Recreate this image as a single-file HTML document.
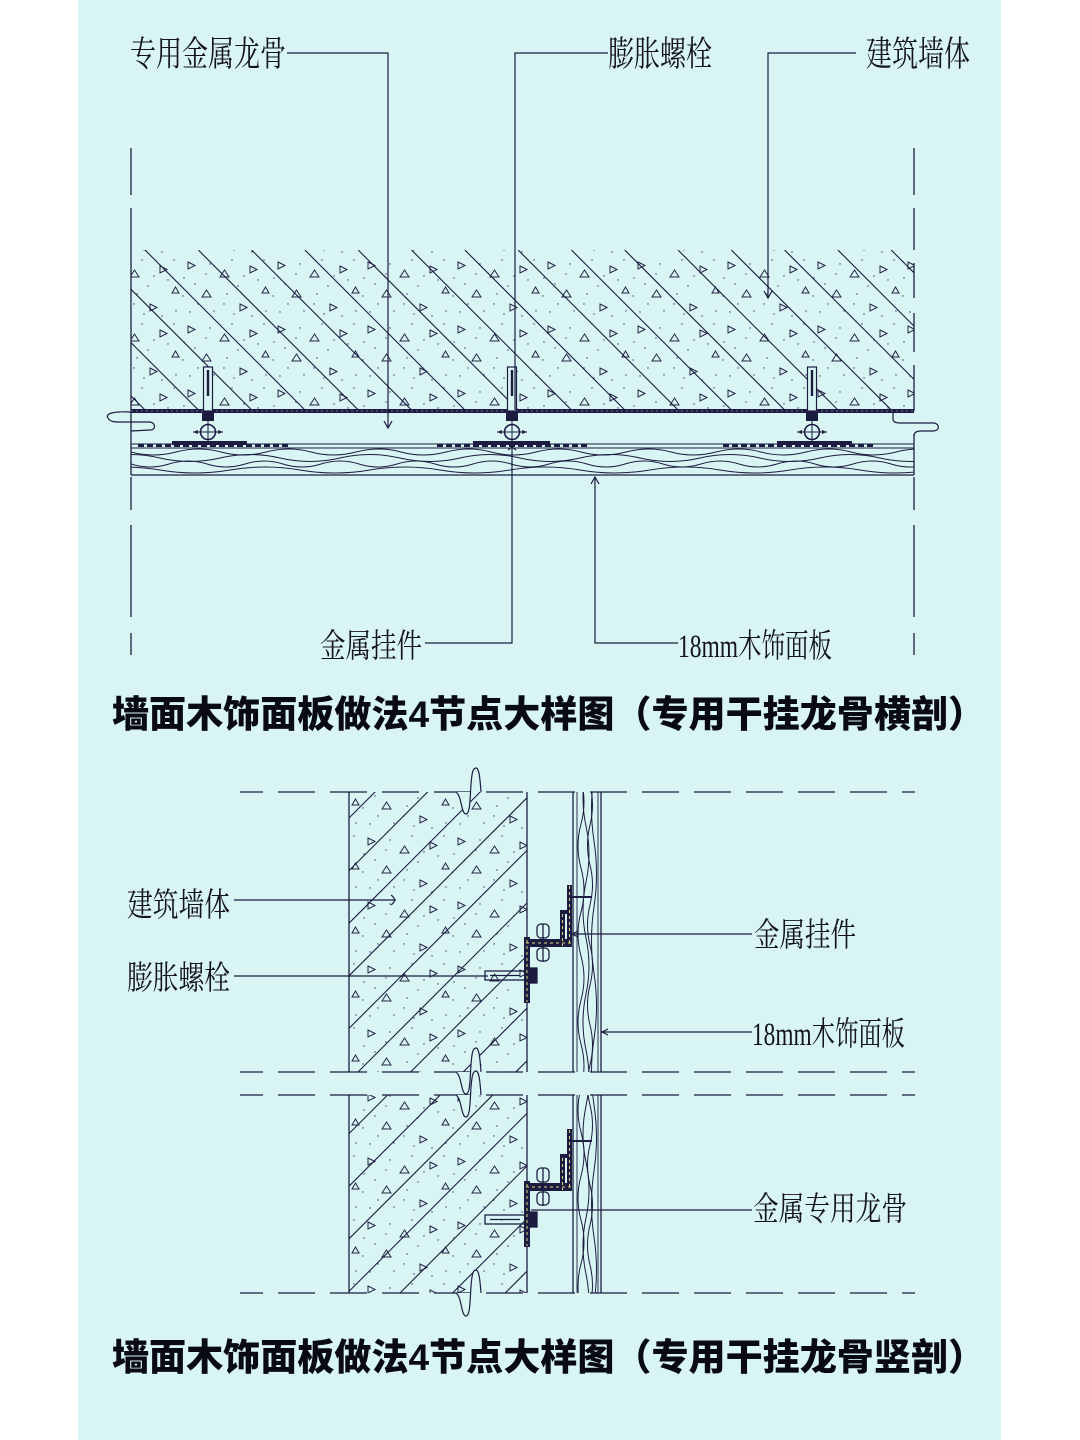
<!DOCTYPE html>
<html><head><meta charset="utf-8">
<style>
html,body{margin:0;padding:0;background:#fffffe;}
svg{display:block;}
.lbl{font-family:"Liberation Serif","Noto Serif CJK SC",serif;fill:#141420;}
.ttl{font-family:"Liberation Sans","Noto Sans CJK SC",sans-serif;font-weight:900;fill:#0a0a14;}
</style></head>
<body>
<svg width="1080" height="1440" viewBox="0 0 1080 1440" xmlns="http://www.w3.org/2000/svg">
<defs>
<pattern id="st" width="90" height="64" patternUnits="userSpaceOnUse">
<g fill="none" stroke="#222244" stroke-width="1">
<path d="M8,6 l7,3.5 l-7,3.5z"/>
<path d="M40,21 l4.5,-7 l4.5,7z"/>
<path d="M70,10 l7,3.5 l-7,3.5z"/>
<path d="M22,41 l4.5,-7 l4.5,7z"/>
<path d="M60,48 l7,3.5 l-7,3.5z"/>
<path d="M82,37 l3.5,-6 l3.5,6z"/>
</g>
<g fill="#3a3a5a">
<circle cx="4" cy="22" r=".7"/><circle cx="15" cy="28" r=".7"/><circle cx="30" cy="8" r=".7"/>
<circle cx="52" cy="4" r=".7"/><circle cx="58" cy="30" r=".7"/><circle cx="34" cy="55" r=".7"/>
<circle cx="10" cy="56" r=".7"/><circle cx="47" cy="38" r=".7"/><circle cx="78" cy="24" r=".7"/>
<circle cx="86" cy="55" r=".7"/><circle cx="72" cy="60" r=".7"/><circle cx="26" cy="18" r=".7"/>
<circle cx="64" cy="20" r=".7"/><circle cx="44" cy="48" r=".7"/><circle cx="18" cy="48" r=".7"/>
<circle cx="84" cy="4" r=".7"/><circle cx="3" cy="40" r=".7"/><circle cx="54" cy="58" r=".7"/>
</g>
</pattern>
<clipPath id="cwT"><rect x="131" y="250" width="783" height="161"/></clipPath>
<clipPath id="cwB"><rect x="349" y="792" width="178" height="280"/><rect x="349" y="1095" width="178" height="198"/></clipPath>
<clipPath id="cwood"><rect x="131" y="447" width="783" height="28"/></clipPath>
<clipPath id="cvw"><rect x="577" y="792" width="21" height="280"/><rect x="577" y="1095" width="21" height="198"/></clipPath>
<g id="bolt" stroke="#1c1c40" fill="none">
<rect x="-4.5" y="367" width="9" height="44" fill="#d9f5f3" stroke-width="1.2"/>
<line x1="0" y1="370" x2="0" y2="396" stroke-width="2.4"/>
<rect x="-6" y="413" width="12" height="8" fill="#1c1c40" stroke="none"/>
<line x1="0" y1="421" x2="0" y2="442" stroke-width="1"/>
<circle cx="0" cy="432" r="7.5" stroke-width="1.6"/>
<line x1="-15" y1="432" x2="15" y2="432" stroke-width="1"/>
<path d="M-15,432 l5,-2 v4z M15,432 l-5,-2 v4z" fill="#1c1c40" stroke="none"/>
</g>
<g id="hang">
<g fill="#1c1c40">
<rect x="524" y="937" width="6" height="66"/>
<rect x="524" y="939" width="48" height="8"/>
<rect x="560" y="910" width="5" height="37"/>
<rect x="567" y="885" width="5" height="62"/>
<rect x="560" y="910" width="12" height="4"/>
</g>
<g stroke="#d8d87a" stroke-width="1" stroke-dasharray="3 3" fill="none">
<line x1="527" y1="940" x2="527" y2="1002"/>
<line x1="526" y1="943" x2="571" y2="943"/>
<line x1="569.5" y1="886" x2="569.5" y2="946"/>
<line x1="562.5" y1="914" x2="562.5" y2="946"/>
</g>
<line x1="572" y1="897" x2="592" y2="897" stroke="#1c1c40" stroke-width="2"/>
<g fill="none" stroke="#1c1c40" stroke-width="1.3">
<rect x="537" y="924" width="12" height="14" rx="4"/>
<rect x="537" y="948" width="12" height="13" rx="4"/>
<line x1="543" y1="924" x2="543" y2="962"/>
<rect x="485" y="971" width="40" height="9"/>
<line x1="490" y1="975.5" x2="520" y2="975.5"/>
<rect x="530" y="968" width="7" height="15" fill="#1c1c40"/>
</g>
</g>
</defs>

<rect x="0" y="0" width="1080" height="1440" fill="#fffffe"/>
<rect x="78" y="0" width="923" height="1440" fill="#d9f5f3"/>

<!-- ============ TOP SECTION ============ -->
<rect x="131" y="250" width="783" height="161" fill="url(#st)"/>
<g clip-path="url(#cwT)" stroke="#1c1c40" stroke-width="1.1">
<line x1="-14.9" y1="250" x2="146.1" y2="411"/>
<line x1="38.4" y1="250" x2="199.4" y2="411"/>
<line x1="91.7" y1="250" x2="252.7" y2="411"/>
<line x1="145" y1="250" x2="306" y2="411"/>
<line x1="198.3" y1="250" x2="359.3" y2="411"/>
<line x1="251.6" y1="250" x2="412.6" y2="411"/>
<line x1="304.9" y1="250" x2="465.9" y2="411"/>
<line x1="358.2" y1="250" x2="519.2" y2="411"/>
<line x1="411.5" y1="250" x2="572.5" y2="411"/>
<line x1="464.8" y1="250" x2="625.8" y2="411"/>
<line x1="518.1" y1="250" x2="679.1" y2="411"/>
<line x1="571.4" y1="250" x2="732.4" y2="411"/>
<line x1="624.7" y1="250" x2="785.7" y2="411"/>
<line x1="678" y1="250" x2="839" y2="411"/>
<line x1="731.3" y1="250" x2="892.3" y2="411"/>
<line x1="784.6" y1="250" x2="945.6" y2="411"/>
<line x1="837.9" y1="250" x2="998.9" y2="411"/>
<line x1="891.2" y1="250" x2="1052.2" y2="411"/>
</g>

<!-- wall edges / dashed verticals -->
<g stroke="#1c1c40" stroke-width="1.3" fill="none">
<line x1="131" y1="148" x2="131" y2="195"/>
<line x1="131" y1="208" x2="131" y2="475"/>
<line x1="131" y1="477" x2="131" y2="510"/>
<line x1="131" y1="525" x2="131" y2="617"/>
<line x1="131" y1="633" x2="131" y2="655"/>
<line x1="914" y1="148" x2="914" y2="195"/>
<line x1="914" y1="208" x2="914" y2="250"/>
<line x1="914" y1="263" x2="914" y2="298"/>
<line x1="914" y1="313" x2="914" y2="352"/>
<line x1="914" y1="365" x2="914" y2="411"/>
<line x1="914" y1="434" x2="914" y2="475"/>
<line x1="914" y1="477" x2="914" y2="510"/>
<line x1="914" y1="525" x2="914" y2="617"/>
<line x1="914" y1="633" x2="914" y2="655"/>
</g>

<!-- thick line -->
<line x1="131" y1="411" x2="914" y2="411" stroke="#1c1c40" stroke-width="4"/>
<line x1="131" y1="411" x2="914" y2="411" stroke="#6a6a9a" stroke-width="1" stroke-dasharray="2 3"/>

<!-- break symbols -->
<g fill="none" stroke="#1c1c40" stroke-width="1.2">
<path d="M131,412 C112,411 105,414 108,418 C110,422 115,422 120,422 L150,422 C156,423 156,430 150,430 L131,431"/>
<path d="M893,413 L893,419 C893,422 896,423 900,423 L934,423 C940,424 940,431 933,431 L921,431 C916,431 914,433 914,436"/>
</g>

<!-- wood panel top -->
<g stroke="#1c1c40" fill="none">
<line x1="131" y1="444" x2="914" y2="444" stroke-width="1.1"/>
<line x1="131" y1="448" x2="914" y2="448" stroke-width="0.9"/>
<line x1="131" y1="475" x2="914" y2="475" stroke-width="1.3"/>
<g clip-path="url(#cwood)" stroke-width="1">
<path d="M131,452 q22,6 45,0 t45,0 t45,0 t45,0 t45,0 t45,0 t45,0 t45,0 t45,0 t45,0 t45,0 t45,0 t45,0 t45,0 t45,0 t45,0 t45,0 t45,0"/>
<path d="M100,458 q30,-7 60,0 t60,0 t60,0 t60,0 t60,0 t60,0 t60,0 t60,0 t60,0 t60,0 t60,0 t60,0 t60,0 t60,0"/>
<path d="M131,464 q19,6 38,0 t38,0 t38,0 t38,0 t38,0 t38,0 t38,0 t38,0 t38,0 t38,0 t38,0 t38,0 t38,0 t38,0 t38,0 t38,0 t38,0 t38,0 t38,0 t38,0 t38,0"/>
<path d="M90,470 q35,-6 70,0 t70,0 t70,0 t70,0 t70,0 t70,0 t70,0 t70,0 t70,0 t70,0 t70,0 t70,0"/>
</g>
</g>

<!-- hanger strips top -->
<g stroke="#1c1c40" stroke-width="3" stroke-dasharray="6 3">
<line x1="138" y1="445.5" x2="290" y2="445.5"/>
<line x1="437" y1="445.5" x2="590" y2="445.5"/>
<line x1="723" y1="445.5" x2="875" y2="445.5"/>
</g>
<g fill="#1c1c40">
<rect x="172" y="441" width="75" height="4"/>
<rect x="473" y="441" width="77" height="4"/>
<rect x="777" y="441" width="75" height="4"/>
</g>

<!-- bolts -->
<use href="#bolt" x="208"/>
<use href="#bolt" x="512"/>
<use href="#bolt" x="812"/>

<!-- leaders top -->
<g stroke="#1c1c40" stroke-width="1.2" fill="none">
<path d="M287,53 H388 V428"/>
<path d="M384,421 L388,428 L392,421"/>
<path d="M608,53 H515 V410"/>
<path d="M856,53 H768 V298"/>
<path d="M764,291 L768,298 L772,291"/>
<path d="M425,643 H512 V447"/>
<path d="M508,444 L516,450 M516,444 L508,450"/>
<path d="M678,643 H595 V477"/>
<path d="M591,484 L595,477 L599,484"/>
</g>

<text class="lbl" x="130" y="66" font-size="35" textLength="156" lengthAdjust="spacingAndGlyphs">专用金属龙骨</text>
<text class="lbl" x="608" y="66" font-size="35" textLength="104" lengthAdjust="spacingAndGlyphs">膨胀螺栓</text>
<text class="lbl" x="866" y="66" font-size="35" textLength="104" lengthAdjust="spacingAndGlyphs">建筑墙体</text>
<text class="lbl" x="320" y="657" font-size="33" textLength="102" lengthAdjust="spacingAndGlyphs">金属挂件</text>
<text class="lbl" x="678" y="657" font-size="33" textLength="154" lengthAdjust="spacingAndGlyphs">18mm木饰面板</text>

<text class="ttl" x="112" y="727" font-size="37" textLength="873" lengthAdjust="spacingAndGlyphs">墙面木饰面板做法4节点大样图（专用干挂龙骨横剖）</text>

<!-- ============ BOTTOM SECTION ============ -->
<rect x="349" y="792" width="178" height="280" fill="url(#st)"/>
<rect x="349" y="1095" width="178" height="198" fill="url(#st)"/>
<g clip-path="url(#cwB)" stroke="#1c1c40" stroke-width="1.1">
<line x1="-133" y1="1300" x2="387" y2="780"/>
<line x1="-80.4" y1="1300" x2="439.6" y2="780"/>
<line x1="-27.8" y1="1300" x2="492.2" y2="780"/>
<line x1="24.8" y1="1300" x2="544.8" y2="780"/>
<line x1="77.4" y1="1300" x2="597.4" y2="780"/>
<line x1="130" y1="1300" x2="650" y2="780"/>
<line x1="182.6" y1="1300" x2="702.6" y2="780"/>
<line x1="235.2" y1="1300" x2="755.2" y2="780"/>
<line x1="287.8" y1="1300" x2="807.8" y2="780"/>
<line x1="340.4" y1="1300" x2="860.4" y2="780"/>
<line x1="393" y1="1300" x2="913" y2="780"/>
<line x1="445.6" y1="1300" x2="965.6" y2="780"/>
<line x1="498.2" y1="1300" x2="1018.2" y2="780"/>
</g>

<!-- walls edges -->
<g stroke="#1c1c40" stroke-width="1.3" fill="none">
<line x1="349" y1="792" x2="349" y2="1072"/>
<line x1="527" y1="792" x2="527" y2="1072"/>
<line x1="349" y1="1095" x2="349" y2="1293"/>
<line x1="527" y1="1095" x2="527" y2="1293"/>
<line x1="573" y1="792" x2="573" y2="1072"/>
<line x1="577" y1="792" x2="577" y2="1072" stroke-width="0.9"/>
<line x1="598" y1="792" x2="598" y2="1072" stroke-width="0.9"/>
<line x1="601" y1="792" x2="601" y2="1072"/>
<line x1="573" y1="1095" x2="573" y2="1293"/>
<line x1="577" y1="1095" x2="577" y2="1293" stroke-width="0.9"/>
<line x1="598" y1="1095" x2="598" y2="1293" stroke-width="0.9"/>
<line x1="601" y1="1095" x2="601" y2="1293"/>
</g>
<g clip-path="url(#cvw)" stroke="#1c1c40" stroke-width="1" fill="none">
<path d="M581,780 q6,22 0,44 t0,44 t0,44 t0,44 t0,44 t0,44 t0,44 t0,44 t0,44 t0,44 t0,44 t0,44"/>
<path d="M586,770 q-6,28 0,56 t0,56 t0,56 t0,56 t0,56 t0,56 t0,56 t0,56 t0,56 t0,56"/>
<path d="M590,785 q5,20 0,40 t0,40 t0,40 t0,40 t0,40 t0,40 t0,40 t0,40 t0,40 t0,40 t0,40 t0,40 t0,40"/>
<path d="M594,775 q-5,33 0,66 t0,66 t0,66 t0,66 t0,66 t0,66 t0,66 t0,66"/>
</g>

<!-- dashed horizontals -->
<g stroke="#1c1c40" stroke-width="1.3" stroke-dasharray="37 15" stroke-dashoffset="14">
<line x1="240" y1="792" x2="915" y2="792"/>
<line x1="240" y1="1072" x2="915" y2="1072"/>
<line x1="240" y1="1095" x2="915" y2="1095"/>
<line x1="240" y1="1293" x2="915" y2="1293"/>
</g>

<!-- break symbols -->
<g fill="#d9f5f3" stroke="#1c1c40" stroke-width="1.2">
<path d="M456,792 C462,796 461,814 466,814 C470,814 470,800 471,784 C472,772 473,768 476,768 C479,768 480,778 481,792"/>
<path d="M456,1072 C462,1076 461,1094 466,1094 C470,1094 470,1080 471,1064 C472,1052 473,1048 476,1048 C479,1048 480,1058 481,1072"/>
<path d="M456,1095 C462,1099 461,1117 466,1117 C470,1117 470,1103 471,1087 C472,1075 473,1071 476,1071 C479,1071 480,1081 481,1095"/>
<path d="M456,1293 C462,1297 461,1316 466,1316 C470,1316 470,1302 471,1286 C472,1274 473,1270 476,1270 C479,1270 480,1280 481,1293"/>
</g>

<!-- hangers -->
<use href="#hang"/>
<use href="#hang" y="244"/>

<!-- leaders bottom -->
<g stroke="#1c1c40" stroke-width="1.2" fill="none">
<path d="M234,900 H396"/>
<path d="M391,895 Q398,900 391,905"/>
<path d="M234,976 H488"/>
<path d="M752,934 H572"/>
<path d="M578,931 L572,934 L578,937"/>
<path d="M752,1032 H602"/>
<path d="M608,1029 L602,1032 L608,1035"/>
<path d="M752,1210 H531"/>
</g>

<text class="lbl" x="127" y="916" font-size="33" textLength="103" lengthAdjust="spacingAndGlyphs">建筑墙体</text>
<text class="lbl" x="127" y="989" font-size="33" textLength="103" lengthAdjust="spacingAndGlyphs">膨胀螺栓</text>
<text class="lbl" x="754" y="946" font-size="33" textLength="102" lengthAdjust="spacingAndGlyphs">金属挂件</text>
<text class="lbl" x="752" y="1045" font-size="33" textLength="153" lengthAdjust="spacingAndGlyphs">18mm木饰面板</text>
<text class="lbl" x="753" y="1220" font-size="33" textLength="154" lengthAdjust="spacingAndGlyphs">金属专用龙骨</text>

<text class="ttl" x="112" y="1370" font-size="37" textLength="873" lengthAdjust="spacingAndGlyphs">墙面木饰面板做法4节点大样图（专用干挂龙骨竖剖）</text>
</svg>
</body></html>
